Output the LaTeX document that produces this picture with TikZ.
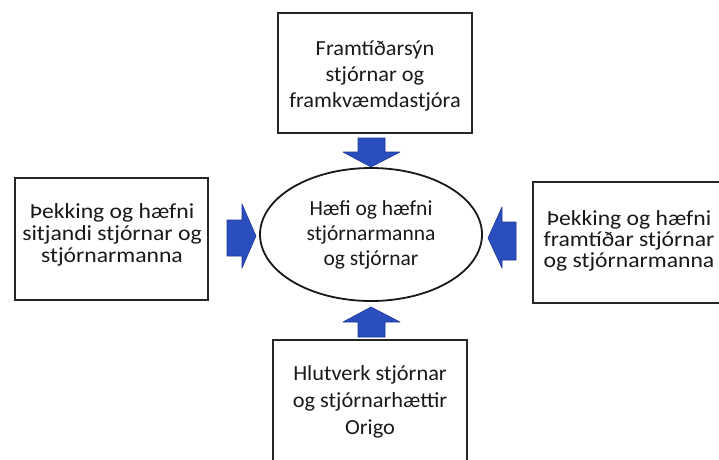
\documentclass[tikz,border=0pt]{standalone}
\usepackage{fontspec}
\setmainfont{Carlito}
\newfontfamily\widefont[FakeStretch=1.10]{Carlito}
\newfontfamily\midfont[FakeStretch=1.04]{Carlito}
\usetikzlibrary{shapes.geometric}
\definecolor{arrblue}{RGB}{42,78,190}
\definecolor{arredge}{RGB}{30,55,150}
\begin{document}
\begin{tikzpicture}[x=1pt,y=-1pt,
  boxstyle/.style={draw=black!85,line width=2.6pt,fill=white,inner sep=0pt},
  boxtext/.style={align=center,text=black!90},
  blockarrow/.style={fill=arrblue,draw=arredge,line width=0.6pt,line join=round}]
\useasboundingbox (0,0) rectangle (719,459);
\fill[white] (0,0) rectangle (719,459);
% boxes
\draw[boxstyle] (278,13) rectangle (472,133);
\node[boxtext,font=\midfont\fontsize{21.5}{26}\selectfont] (top) at (375,76) {Framtíðarsýn\\stjórnar og\\framkvæmdastjóra};
\draw[boxstyle] (15,178) rectangle (208,300);
\node[boxtext,font=\widefont\fontsize{21.5}{22}\selectfont] (left) at (112,235) {Þekking og hæfni\\sitjandi stjórnar og\\stjórnarmanna};
\draw[boxstyle] (533,182) rectangle (724,303);
\node[boxtext,font=\widefont\fontsize{21.5}{21}\selectfont] (right) at (629,241) {Þekking og hæfni\\framtíðar stjórnar\\og stjórnarmanna};
\draw[boxstyle] (273,340) rectangle (467,470);
\node[boxtext,font=\midfont\fontsize{21.5}{27}\selectfont] (bottom) at (370,402) {Hlutverk stjórnar\\og stjórnarhættir\\Origo};
% ellipse
\node[ellipse,draw=black!90,line width=1.8pt,minimum width=222pt,minimum height=133pt,inner sep=0pt] (center) at (371,234.5) {};
\node[boxtext,font=\fontsize{21.5}{25}\selectfont] (centertext) at (371,235) {Hæfi og hæfni\\stjórnarmanna\\og stjórnar};
% block arrows
\draw[blockarrow] (358,138) -- (385,138) -- (385,152) -- (400,152) -- (371,167) -- (343,152) -- (358,152) -- cycle;
\draw[blockarrow] (358,337) -- (385,337) -- (385,322) -- (400,322) -- (371,307) -- (343,322) -- (358,322) -- cycle;
\draw[blockarrow] (227,220) -- (242,220) -- (242,204) -- (256,236) -- (242,268) -- (242,256) -- (227,256) -- cycle;
\draw[blockarrow] (516,222) -- (502,222) -- (502,207) -- (488,238) -- (502,268) -- (502,260) -- (516,260) -- cycle;
\end{tikzpicture}
\end{document}
